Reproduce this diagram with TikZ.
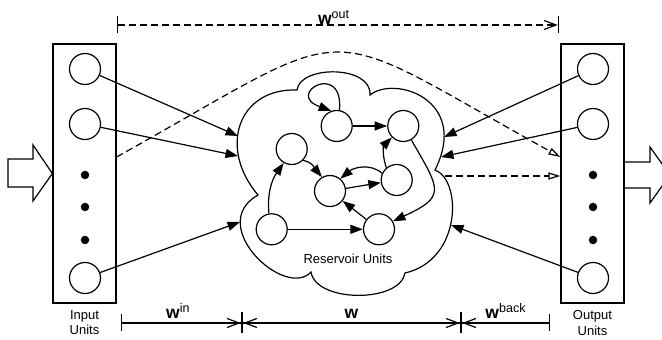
\documentclass[tikz,border=0pt]{standalone}
\usepackage{fontspec}
\setmainfont{Liberation Sans}
\usetikzlibrary{calc}
\usetikzlibrary{arrows.meta}
\usetikzlibrary{positioning}

\tikzset{
	barb/.tip={Straight Barb[length=12pt,width=9pt,sep=0pt]},
	tick/.tip={Bar[width=17pt,sep=0pt]},
	midtick/.tip={Bar[width=21pt,sep=0pt]}
}
\newcommand{\wmat}[1]{{\fontsize{17.5}{18}\selectfont\bfseries w}\raisebox{6pt}{\fontsize{12.5}{13}\selectfont #1}}

\begin{document}
\begin{tikzpicture}[x=1pt, y=1pt, line width=1.2pt]
	\tikzstyle{unit} = [draw, circle, minimum size=31pt, inner sep=0pt]
	\tikzstyle{dotunit} = [fill, circle, minimum size=8.5pt, inner sep=0pt]
	\tikzstyle{unitbox} = [draw, rectangle, minimum width=63pt, minimum height=259pt, inner sep=0pt]
	\tikzstyle{boxlabel} = [align=center, font=\fontsize{13}{15.5}\selectfont]
	\tikzstyle{wire} = [-{Triangle[length=12.5pt,width=9pt]}]
	\tikzstyle{readout} = [dash pattern=on 7pt off 4pt, -{Triangle[open,length=12pt,width=7pt]}]
	\tikzstyle{dimtop} = [dash pattern=on 7pt off 4pt, {tick[]}-{barb[] tick[]}]
	\tikzstyle{dimleft} = [{tick[]}-{barb[] midtick[]}]
	\tikzstyle{dimmid} = [{midtick[] barb[]}-{barb[] midtick[]}]
	\tikzstyle{dimright} = [{midtick[] barb[]}-{tick[]}]

	\useasboundingbox (0,0) rectangle (662,340);

	% input layer
	\node[unitbox] (inbox) at (84.5,166.5) {};
	\node[unit] (i1) at (85,271) {};
	\node[unit] (i2) at (85,216) {};
	\node[dotunit] (i3) at (85,165) {};
	\node[dotunit] (i4) at (85,133) {};
	\node[dotunit] (i5) at (85,100) {};
	\node[unit] (i6) at (85,62) {};
	\node[boxlabel, below=3pt of inbox] (inlbl) {Input\\Units};

	% output layer
	\node[unitbox] (outbox) at (592.5,166.5) {};
	\node[unit] (o1) at (593,271) {};
	\node[unit] (o2) at (593,216) {};
	\node[dotunit] (o3) at (593,165) {};
	\node[dotunit] (o4) at (593,133) {};
	\node[dotunit] (o5) at (593,100) {};
	\node[unit] (o6) at (593,62) {};
	\node[boxlabel, below=3pt of outbox] (outlbl) {Output\\Units};

	% big in/out arrows
	\draw (8,153) -- (33,153) -- (33,139) -- (inbox.west) -- (33,195) -- (33,181) -- (8,181) -- cycle;
	\begin{scope}
		\clip (0,0) rectangle (662,340);
		\draw (624,152) -- (650,152) -- (650,137) -- (670,165) -- (650,193) -- (650,178) -- (624,178);
	\end{scope}

	% reservoir
	\draw (258,145) .. controls (218,192) and (238,252) .. (297,250)
		.. controls (300,275) and (372,275) .. (370,245)
		.. controls (395,265) and (470,240) .. (435,170)
		.. controls (462,160) and (462,80) .. (405,67)
		.. controls (400,37) and (316,37) .. (311,68)
		.. controls (285,40) and (205,115) .. (258,145) -- cycle;
	\node[boxlabel] (reslbl) at (348,81) {Reservoir Units};

	\node[unit] (n1) at (336.7,214) {};
	\node[unit] (n2) at (403.3,214) {};
	\node[unit] (n3) at (291.7,191) {};
	\node[unit] (n4) at (330,149) {};
	\node[unit] (n5) at (396.7,160) {};
	\node[unit] (n6) at (271.7,110.7) {};
	\node[unit] (n7) at (379,110.7) {};

	\draw[wire] (n1.80) to[out=85,in=160,min distance=50pt] (n1.110);
	\draw[wire] (n1) -- (n2);
	\draw[wire] (n3.-45) to[out=-10,in=130] (n4.120);
	\draw[wire] (n4) -- (n5);
	\draw[wire] (n5.155) to[out=140,in=40] (n4.50);
	\draw[wire] (n5.130) to[out=110,in=225] (n2.225);
	\draw[wire] (n2.-60) to[out=-60,in=25,looseness=1.8] (n7.30);
	\draw[wire] (n6) -- (n7);
	\draw[wire] (n6.100) to[out=95,in=235] (n3.240);
	\draw[wire] (n7) -- (n4);

	% weights into the reservoir
	\coordinate (r1) at (238,204);
	\coordinate (r2) at (238,184);
	\coordinate (r3) at (240,118);
	\coordinate (r4) at (444,203);
	\coordinate (r5) at (441,183);
	\coordinate (r6) at (451,115);
	\draw[wire] (i1) -- (r1);
	\draw[wire] (i2) -- (r2);
	\draw[wire] (i6) -- (r3);
	\draw[wire] (o1) -- (r4);
	\draw[wire] (o2) -- (r5);
	\draw[wire] (o6) -- (r6);

	% readout
	\coordinate (fb) at (445,164);
	\draw[readout] (fb) -- (fb -| outbox.west);
	\coordinate (fs) at ($(inbox.east)+(0,16.5)$);
	\coordinate (fe) at ($(outbox.west)+(0,16.5)$);
	\draw[readout] (fs) .. controls (366,322) and (309,322) .. (fe);

	% weight spans
	\coordinate (t0) at (117,315);
	\coordinate (t1) at (559,315);
	\draw[dimtop] (t0) -- node[above, inner sep=0pt, pos=0.49] {\wmat{out}} (t1);

	\coordinate (b0) at (121,17);
	\coordinate (b1) at (242,17);
	\coordinate (b2) at (461,17);
	\coordinate (b3) at (550,17);
	\draw[dimleft] (b0) -- node[above, inner sep=4pt, pos=0.47] {\wmat{in}} (b1);
	\draw[dimmid] (b1) -- node[above, inner sep=4pt] {\wmat{}} (b2);
	\draw[dimright] (b2) -- node[above, inner sep=4pt] {\wmat{back}} (b3);
\end{tikzpicture}
\end{document}
